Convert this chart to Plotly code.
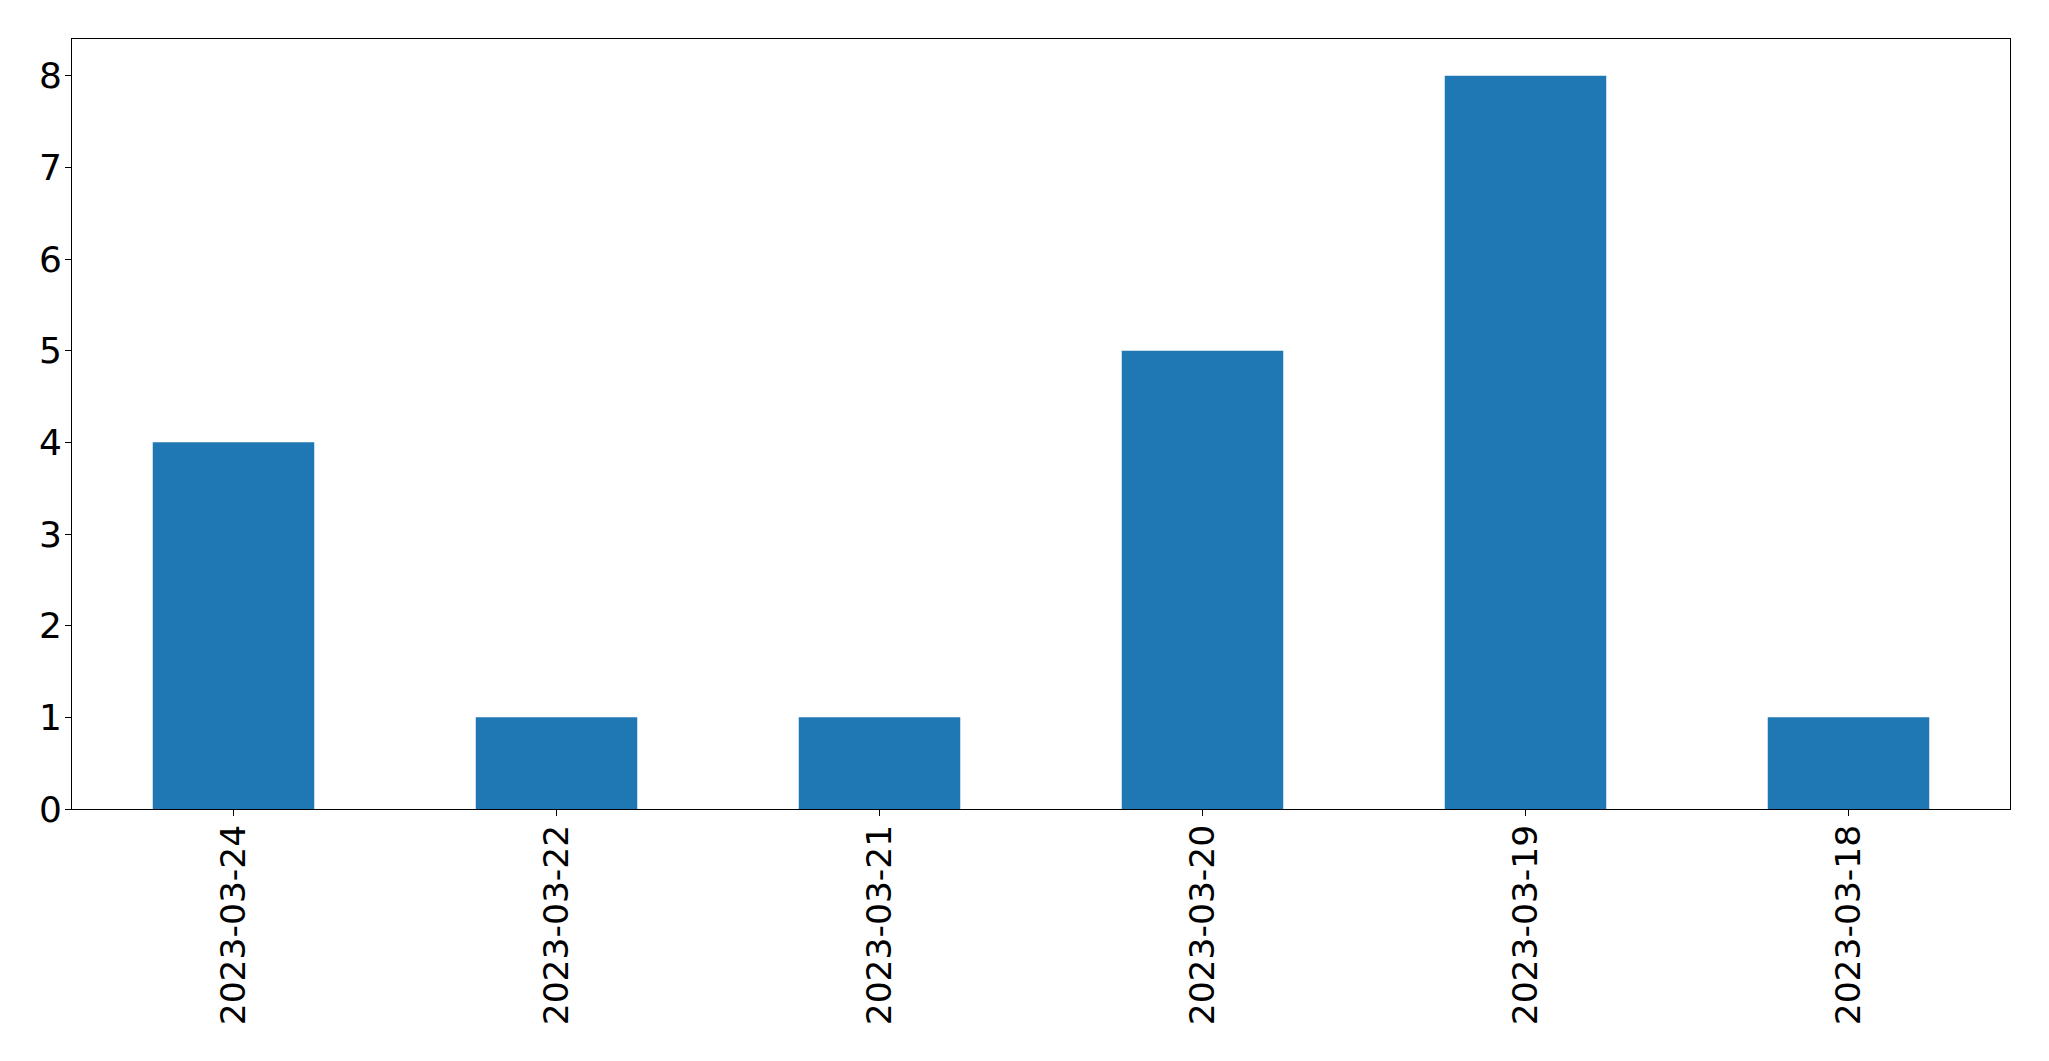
import plotly.graph_objects as go

dates = ["2023-03-24", "2023-03-22", "2023-03-21", "2023-03-20", "2023-03-19", "2023-03-18"]
counts = [4, 1, 1, 5, 8, 1]
y_ticks = [0, 1, 2, 3, 4, 5, 6, 7, 8]

fig = go.Figure(go.Bar(x=dates, y=counts, marker_color="#1f77b4", width=0.5,
                       marker_line_width=0))

axis_common = dict(showline=True, linecolor="black", linewidth=1, mirror=True,
                   ticks="outside", ticklen=6, tickcolor="black", tickwidth=1,
                   showgrid=False, zeroline=False)

fig.update_xaxes(type="category", range=[-0.5, 5.5], tickangle=-90,
                 ticklabelstandoff=-5,
                 tickfont=dict(family="DejaVu Sans", size=34.5, color="black"),
                 **axis_common)
fig.update_yaxes(range=[0, 8.4], tickvals=y_ticks, ticklabelstandoff=-4,
                 tickfont=dict(family="DejaVu Sans", size=36, color="black"),
                 **axis_common)

fig.update_layout(width=2041, height=1053, plot_bgcolor="white", paper_bgcolor="white",
                  margin=dict(l=64, r=39, t=31, b=252, autoexpand=False),
                  showlegend=False)

fig.write_html("out.html")
